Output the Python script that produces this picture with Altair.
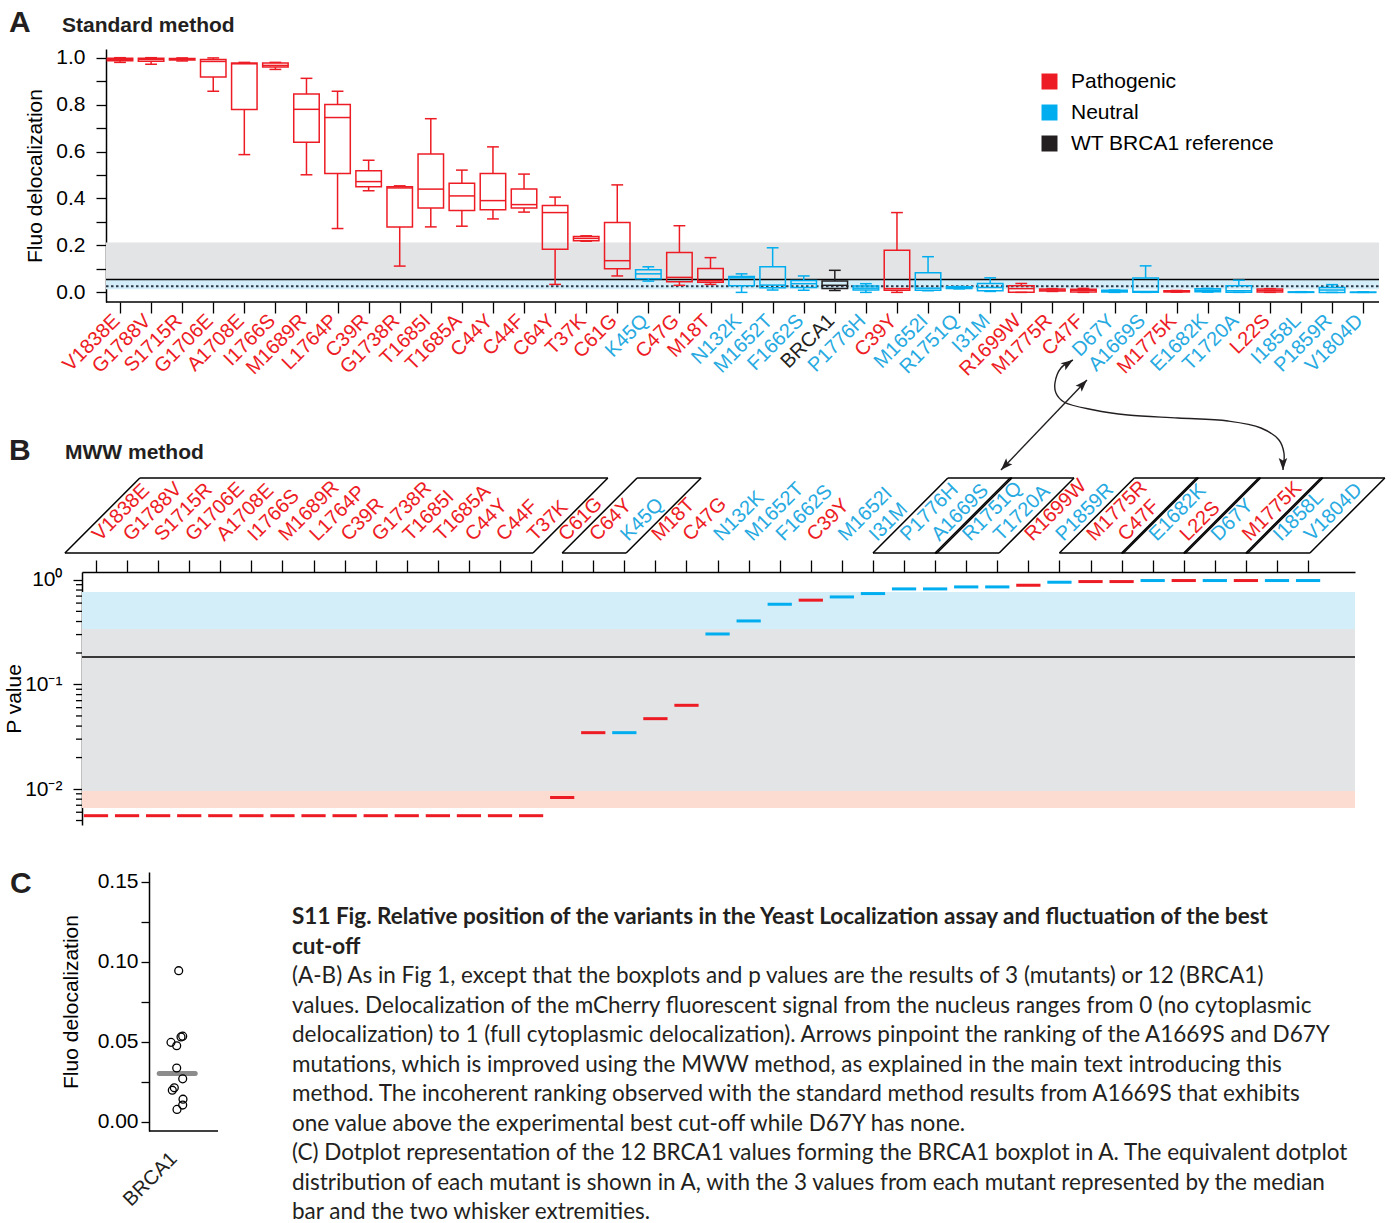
import altair as alt
import pandas as pd
import numpy as np

RED = "#ED1C24"
BLUE = "#00AEEF"
BLUE_T = "#27AAE1"
BLACK = "#231F20"
GRAY_BAND = "#E3E4E6"
BLUE_BAND = "#D4EEF9"
PEACH_BAND = "#FCDCD1"
FONT = "Liberation Sans"
CAP_FONT = "Lato"

# ---------------- Panel A data (standard method) ----------------
a_variants = ["V1838E", "G1788V", "S1715R", "G1706E", "A1708E", "I1766S", "M1689R", "L1764P",
              "C39R", "G1738R", "T1685I", "T1685A", "C44Y", "C44F", "C64Y", "T37K", "C61G",
              "K45Q", "C47G", "M18T", "N132K", "M1652T", "F1662S", "BRCA1", "P1776H", "C39Y",
              "M1652I", "R1751Q", "I31M", "R1699W", "M1775R", "C47F", "D67Y", "A1669S",
              "M1775K", "E1682K", "T1720A", "L22S", "I1858L", "P1859R", "V1804D"]
P, N, W = "Pathogenic", "Neutral", "WT BRCA1 reference"
a_class = [P, P, P, P, P, P, P, P, P, P, P, P, P, P, P, P, P,
           N, P, P, N, N, N, W, N, P, N, N, N, P, P, P, N, N, P, N, N, P, N, N, N]
a_low = [0.980, 0.972, 0.986, 0.857, 0.587, 0.950, 0.501, 0.272, 0.433, 0.112, 0.279, 0.282,
         0.313, 0.342, 0.034, 0.218, 0.070, 0.048, 0.030, 0.034, 0.000, 0.010, 0.009, 0.008,
         0.000, 0.000, 0.007, 0.015, 0.004, 0.000, 0.004, 0.000, 0.000, 0.000, 0.001, 0.001,
         0.000, 0.000, 0.000, 0.000, 0.000]
a_q1 = [0.987, 0.985, 0.990, 0.918, 0.779, 0.960, 0.640, 0.506, 0.450, 0.279, 0.359, 0.349,
        0.352, 0.359, 0.184, 0.220, 0.101, 0.058, 0.045, 0.043, 0.028, 0.020, 0.021, 0.017,
        0.010, 0.009, 0.009, 0.017, 0.007, 0.001, 0.006, 0.002, 0.002, 0.001, 0.002, 0.003,
        0.001, 0.002, 0.000, 0.000, 0.000]
a_med = [0.993, 0.993, 0.994, 0.984, 0.974, 0.967, 0.780, 0.745, 0.472, 0.445, 0.440, 0.411,
         0.391, 0.374, 0.340, 0.230, 0.135, 0.079, 0.064, 0.050, 0.062, 0.031, 0.037, 0.030,
         0.018, 0.016, 0.018, 0.021, 0.021, 0.016, 0.010, 0.009, 0.005, 0.004, 0.004, 0.009,
         0.007, 0.008, 0.001, 0.010, 0.000]
a_q3 = [0.998, 0.998, 0.997, 0.992, 0.977, 0.977, 0.845, 0.800, 0.518, 0.450, 0.590, 0.465,
        0.506, 0.440, 0.370, 0.238, 0.298, 0.096, 0.170, 0.102, 0.068, 0.109, 0.051, 0.049,
        0.027, 0.179, 0.084, 0.024, 0.038, 0.028, 0.014, 0.013, 0.009, 0.061, 0.007, 0.015,
        0.028, 0.014, 0.002, 0.021, 0.001]
a_high = [1.000, 1.000, 0.999, 0.999, 0.980, 0.980, 0.912, 0.857, 0.563, 0.454, 0.740, 0.521,
          0.620, 0.504, 0.406, 0.241, 0.458, 0.109, 0.284, 0.148, 0.079, 0.190, 0.070, 0.094,
          0.037, 0.340, 0.152, 0.025, 0.062, 0.038, 0.016, 0.017, 0.010, 0.113, 0.008, 0.017,
          0.052, 0.016, 0.003, 0.033, 0.002]
a_band_lo = [0.055, 0.013]
a_band_hi = [0.213, 0.055]
a_band_col = [GRAY_BAND, BLUE_BAND]
a_cutoff = 0.055
a_wt_median = 0.026

# ---------------- Panel B data (MWW method) ----------------
b_variants = ["V1838E", "G1788V", "S1715R", "G1706E", "A1708E", "I1766S", "M1689R", "L1764P",
              "C39R", "G1738R", "T1685I", "T1685A", "C44Y", "C44F", "T37K", "C61G", "C64Y",
              "K45Q", "M18T", "C47G", "N132K", "M1652T", "F1662S", "C39Y", "M1652I", "I31M",
              "P1776H", "A1669S", "R1751Q", "T1720A", "R1699W", "P1859R", "M1775R", "C47F",
              "E1682K", "L22S", "D67Y", "M1775K", "I1858L", "V1804D"]
b_class = [P, P, P, P, P, P, P, P, P, P, P, P, P, P, P, P, P,
           N, P, P, N, N, N, P, N, N, N, N, N, N, P, N, P, P, N, P, N, P, N, N]
b_pvalue = [0.00556, 0.00556, 0.00556, 0.00556, 0.00556, 0.00556, 0.00556, 0.00556,
            0.00556, 0.00556, 0.00556, 0.00556, 0.00556, 0.00556, 0.00556, 0.0083, 0.0346,
            0.0346, 0.0471, 0.0632, 0.304, 0.405, 0.585, 0.640, 0.687, 0.740,
            0.820, 0.820, 0.857, 0.857, 0.889, 0.950, 0.964, 0.964,
            0.986, 0.986, 0.986, 0.986, 0.986, 0.986]
b_groups = [(0, 14), (16, 17), (26, 27), (28, 29), (32, 33), (34, 35), (36, 37), (38, 39)]
b_band_lo = [0.34, 0.0096, 0.0066]
b_band_hi = [0.767, 0.34, 0.0096]
b_band_col = [BLUE_BAND, GRAY_BAND, PEACH_BAND]
b_cutoff = 0.183

# ---------------- Panel C data ----------------
c_values = [0.0944, 0.0535, 0.0530, 0.0496, 0.0475, 0.0336, 0.0268, 0.0212, 0.0197, 0.0141,
            0.0104, 0.0077]
c_jitter = [1.5, 5.5, 3.8, -6.2, -0.5, -0.5, 5.5, -2.9, -4.9, 5.8, 5.5, -0.2]

caption_bold = [
    "S11 Fig. Relative position of the variants in the Yeast Localization assay and fluctuation of the best",
    "cut-off",
]
caption_body = [
    "(A-B) As in Fig 1, except that the boxplots and p values are the results of 3 (mutants) or 12 (BRCA1)",
    "values. Delocalization of the mCherry fluorescent signal from the nucleus ranges from 0 (no cytoplasmic",
    "delocalization) to 1 (full cytoplasmic delocalization). Arrows pinpoint the ranking of the A1669S and D67Y",
    "mutations, which is improved using the MWW method, as explained in the main text introducing this",
    "method. The incoherent ranking observed with the standard method results from A1669S that exhibits",
    "one value above the experimental best cut-off while D67Y has none.",
    "(C) Dotplot representation of the 12 BRCA1 values forming the BRCA1 boxplot in A. The equivalent dotplot",
    "distribution of each mutant is shown in A, with the 3 values from each mutant represented by the median",
    "bar and the two whisker extremities.",
]

# arrows (annotation) in B index units / pixels below the gap top
arrow_pts = [
    ("s", 0, 29.118, 121), ("s", 1, 31.885, 31),
    ("c", 0, 31.435, 11), ("c", 1, 31.049, 19), ("c", 2, 30.856, 34), ("c", 3, 30.888, 44),
    ("c", 4, 31.145, 53), ("c", 5, 32.111, 61), ("c", 6, 33.205, 66), ("c", 7, 34.813, 69),
    ("c", 8, 36.422, 72), ("c", 9, 37.484, 79), ("c", 10, 38.063, 91), ("c", 11, 38.224, 104),
    ("c", 12, 38.192, 121),
]
arrow_heads = [(29.118, 121, 223.7), (31.885, 31, 43.7), (31.435, 11, 56.0), (38.192, 121, 180.0)]

# ---------------- geometry ----------------
A_W, A_H = 1297, 253
A_AX = 24
A_XD = [-1.223, 40.51]
A_YD = [-0.041, 1.037]
B_W, B_H = 1273, 253
B_XD = [-0.45, 40.51]
B_YD = [0.00453, 1.19]
SP_H = 176
C_W, C_H = 136, 259
C_AX = 67
C_XD = [-95.2, 40.8]
C_YD = [-0.0058, 0.1561]
GAP = 47

colmap = {P: RED, N: BLUE, W: BLACK}
tcolmap = {P: RED, N: BLUE_T, W: BLACK}

one = pd.DataFrame({"k": [0]})


def label_chart(txt, x, y, size, bold=True, font=FONT):
    return alt.Chart(pd.DataFrame({"t": [txt]})).mark_text(
        font=font, fontSize=size, fontWeight="bold" if bold else "normal", align="left",
        baseline="alphabetic", color=BLACK).encode(x=alt.value(x), y=alt.value(y), text="t:N")


# ================= Panel A =================
a_df = pd.DataFrame({"variant": a_variants, "cls": a_class, "lo": a_low, "q1": a_q1,
                     "med": a_med, "q3": a_q3, "hi": a_high})
a_df["idx"] = np.arange(len(a_df))
a_df["col"] = a_df["cls"].map(colmap)
a_df["tcol"] = a_df["cls"].map(tcolmap)

sAx = alt.Scale(domain=A_XD, nice=False, zero=False)
sAy = alt.Scale(domain=A_YD, nice=False, zero=False)
axAx = alt.Axis(orient="bottom", values=list(range(len(a_variants))), labels=False, domain=False,
                tickSize=11, tickWidth=1.3, grid=False)
axAy = alt.Axis(values=[round(0.1 * i, 1) for i in range(11)],
                labelExpr="abs(datum.value*5 - round(datum.value*5)) < 1e-6 ? format(datum.value, '.1f') : ''",
                offset=-A_AX, tickSize=10, labelPadding=11, titlePadding=10, grid=False)


def xA(f):
    return alt.X(f, type="quantitative", scale=sAx, axis=axAx, title=None)


def yA(f):
    return alt.Y(f, type="quantitative", scale=sAy, axis=axAy, title="Fluo delocalization")


a_bands = alt.Chart(pd.DataFrame({"lo": a_band_lo, "hi": a_band_hi, "c": a_band_col})).mark_rect().encode(
    x=alt.value(A_AX), x2=alt.value(A_W), y=yA("lo"), y2="hi", color=alt.Color("c:N", scale=None))
a_cut = alt.Chart(pd.DataFrame({"v": [a_cutoff]})).mark_rule(color="black", strokeWidth=1.5).encode(
    x=alt.value(A_AX), x2=alt.value(A_W), y=yA("v"))
a_dot = alt.Chart(pd.DataFrame({"v": [a_wt_median]})).mark_rule(
    color="#2E3A4A", strokeWidth=2, strokeDash=[2.5, 2.5]).encode(
    x=alt.value(A_AX), x2=alt.value(A_W), y=yA("v"))
a_base = alt.Chart(a_df).transform_calculate(
    xl="datum.idx - 0.41", xr="datum.idx + 0.41", cl="datum.idx - 0.19", cr="datum.idx + 0.19",
    xt="datum.idx + 0.03")
a_wlo = a_base.mark_rule(strokeWidth=1.5).encode(x=xA("idx"), y=yA("lo"), y2="q1",
                                                color=alt.Color("col:N", scale=None))
a_whi = a_base.mark_rule(strokeWidth=1.5).encode(x=xA("idx"), y=yA("q3"), y2="hi",
                                                color=alt.Color("col:N", scale=None))
a_box = a_base.mark_rect(fillOpacity=0, strokeWidth=1.5).encode(
    x=xA("xl"), x2="xr", y=yA("q1"), y2="q3", stroke=alt.Stroke("col:N", scale=None))
a_medl = a_base.mark_rule(strokeWidth=1.5).encode(x=xA("xl"), x2="xr", y=yA("med"),
                                                 color=alt.Color("col:N", scale=None))
a_caplo = a_base.mark_rule(strokeWidth=1.5).encode(x=xA("cl"), x2="cr", y=yA("lo"),
                                                  color=alt.Color("col:N", scale=None))
a_caphi = a_base.mark_rule(strokeWidth=1.5).encode(x=xA("cl"), x2="cr", y=yA("hi"),
                                                  color=alt.Color("col:N", scale=None))
a_labels = a_base.mark_text(angle=315, align="right", baseline="alphabetic", font=FONT,
                            fontSize=20).encode(
    x=xA("xt"), y=alt.value(A_H + 20), text="variant:N", color=alt.Color("tcol:N", scale=None))
a_legend = a_base.mark_point(shape="square", filled=True, opacity=0, size=4).encode(
    x=xA("idx"), y=yA("med"),
    fill=alt.Fill("cls:N", scale=alt.Scale(domain=[P, N, W], range=[RED, BLUE, BLACK]),
                  legend=alt.Legend(orient="none", legendX=957, legendY=22, title=None,
                                    symbolType="square", symbolSize=256, symbolOpacity=1,
                                    symbolStrokeWidth=0, labelFont=FONT, labelFontSize=21,
                                    labelColor="black", rowPadding=9, labelOffset=11,
                                    labelLimit=0)))
a_axisline = alt.Chart(one).mark_rule(color="black", strokeWidth=1.5).encode(
    x=alt.value(A_AX), x2=alt.value(A_W), y=alt.value(A_H))
a_letter = label_chart("A", -73, -17, 30)
a_title = label_chart("Standard method", -20, -17, 21)

panelA = alt.layer(a_bands, a_cut, a_dot, a_wlo, a_whi, a_box, a_medl, a_caplo, a_caphi,
                   a_labels, a_legend, a_axisline, a_letter, a_title).properties(width=A_W, height=A_H)

# ================= spacer with arrows =================
sSx = alt.Scale(domain=B_XD, nice=False, zero=False)
sSy = alt.Scale(domain=[SP_H, 0], nice=False, zero=False)
px_per_idx = B_W / (B_XD[1] - B_XD[0])
arr_df = pd.DataFrame(arrow_pts, columns=["a", "o", "ix", "py"])
head_r = np.sqrt(190) / 2
heads = pd.DataFrame(arrow_heads, columns=["ix", "py", "ang"])
heads["hx"] = heads["ix"] - head_r * np.sin(np.radians(heads["ang"])) / px_per_idx
heads["hy"] = heads["py"] + head_r * np.cos(np.radians(heads["ang"]))

arr_lines = alt.Chart(arr_df).mark_line(color=BLACK, strokeWidth=1.4, interpolate="catmull-rom").encode(
    x=alt.X("ix:Q", scale=sSx, axis=None), y=alt.Y("py:Q", scale=sSy, axis=None),
    detail="a:N", order="o:Q")
arr_heads = alt.Chart(heads).mark_point(
    shape="M0,-1L0.62,0.75L0,0.38L-0.62,0.75Z", filled=True, size=190, color=BLACK, opacity=1,
    strokeWidth=0).encode(
    x=alt.X("hx:Q", scale=sSx, axis=None), y=alt.Y("hy:Q", scale=sSy, axis=None),
    angle=alt.Angle("ang:Q", scale=None))
spacer = alt.layer(arr_lines, arr_heads).properties(width=B_W, height=SP_H)

# ================= Panel B =================
b_df = pd.DataFrame({"variant": b_variants, "cls": b_class, "p": b_pvalue})
b_df["idx"] = np.arange(len(b_df))
b_df["col"] = b_df["cls"].map(colmap)
b_df["tcol"] = b_df["cls"].map(tcolmap)

sBx = alt.Scale(domain=B_XD, nice=False, zero=False)
sBy = alt.Scale(type="log", domain=B_YD, nice=False)
b_major = [0.01, 0.1, 1.0]
b_minor = [m * 10.0 ** e for e in (-3, -2, -1) for m in range(2, 10) if m * 10.0 ** e >= B_YD[0]]
b_label_expr = ("datum.value > 0.5 ? '10\u2070' : datum.value > 0.05 ? '10\u207b\u00b9' : '10\u207b\u00b2'")
axBx = alt.Axis(orient="top", values=list(range(len(b_variants))), labels=False, tickSize=12,
                tickWidth=1.3, grid=False)
axBy = alt.Axis(values=b_major, labelExpr=b_label_expr, tickSize=9,
                labelPadding=11, titlePadding=0, grid=False)


def xB(f):
    return alt.X(f, type="quantitative", scale=sBx, axis=axBx, title=None)


def yB(f):
    return alt.Y(f, type="quantitative", scale=sBy, axis=axBy, title="P value")


b_bands = alt.Chart(pd.DataFrame({"lo": b_band_lo, "hi": b_band_hi, "c": b_band_col})).mark_rect().encode(
    x=alt.value(0), x2=alt.value(B_W), y=yB("lo"), y2="hi", color=alt.Color("c:N", scale=None))
b_cut = alt.Chart(pd.DataFrame({"v": [b_cutoff]})).mark_rule(color="black", strokeWidth=1.5).encode(
    x=alt.value(0), x2=alt.value(B_W), y=yB("v"))
b_minor_ticks = alt.Chart(pd.DataFrame({"v": b_minor})).mark_rule(color="black", strokeWidth=1.3).encode(
    x=alt.value(-6), x2=alt.value(0), y=yB("v"))
b_base = alt.Chart(b_df).transform_calculate(
    xl="datum.idx - 0.39", xr="datum.idx + 0.39", xt="datum.idx + 0.13")
b_dash = b_base.mark_rule(strokeWidth=3).encode(x=xB("xl"), x2="xr", y=yB("p"),
                                               color=alt.Color("col:N", scale=None))
b_labels = b_base.mark_text(angle=315, align="left", baseline="alphabetic", font=FONT,
                            fontSize=20).encode(
    x=xB("xt"), y=alt.value(-30), text="variant:N", color=alt.Color("tcol:N", scale=None))

SLANT = 2.41
g_df = pd.DataFrame(b_groups, columns=["i0", "i1"])
g_df["x0"] = g_df["i0"] - 1.0
g_df["x1"] = g_df["i1"] + 0.06
g_df["t0"] = g_df["x0"] + SLANT
g_df["t1"] = g_df["x1"] + SLANT
YB_BOT, YB_TOP = -19, -94
pg_bottom = alt.Chart(g_df).mark_rule(color="black", strokeWidth=1.5).encode(
    x=xB("x0"), x2="x1", y=alt.value(YB_BOT))
pg_top = alt.Chart(g_df).mark_rule(color="black", strokeWidth=1.5).encode(
    x=xB("t0"), x2="t1", y=alt.value(YB_TOP))
pg_left = alt.Chart(g_df).mark_rule(color="black", strokeWidth=1.5).encode(
    x=xB("x0"), x2="t0", y=alt.value(YB_BOT), y2=alt.value(YB_TOP))
pg_right = alt.Chart(g_df).mark_rule(color="black", strokeWidth=1.5).encode(
    x=xB("x1"), x2="t1", y=alt.value(YB_BOT), y2=alt.value(YB_TOP))
b_letter = label_chart("B", -73, -112, 30)
b_title = label_chart("MWW method", -17, -113, 21)

panelB = alt.layer(b_bands, b_cut, b_minor_ticks, b_dash, b_labels, pg_bottom, pg_top, pg_left,
                   pg_right, b_letter, b_title).properties(width=B_W, height=B_H)

# ================= Panel C =================
c_df = pd.DataFrame({"v": c_values, "j": c_jitter})
sCx = alt.Scale(domain=C_XD, nice=False, zero=False)
sCy = alt.Scale(domain=C_YD, nice=False, zero=False)
axCy = alt.Axis(values=[0.025 * i for i in range(7)],
                labelExpr="abs(datum.value*20 - round(datum.value*20)) < 1e-6 ? format(datum.value, '.2f') : ''",
                offset=-C_AX, tickSize=8, labelPadding=3, titlePadding=16, grid=False)


def xC(f):
    return alt.X(f, type="quantitative", scale=sCx, axis=None, title=None)


def yC(f):
    return alt.Y(f, type="quantitative", scale=sCy, axis=axCy, title="Fluo delocalization")


c_med_df = pd.DataFrame({"m": [float(np.median(c_values))], "x0": [-18.0], "x1": [18.0]})
c_med = alt.Chart(c_med_df).mark_rule(color="#8C8C8C", strokeWidth=5, strokeCap="round").encode(
    x=xC("x0"), x2="x1", y=yC("m"))
c_pts = alt.Chart(c_df).mark_point(shape="circle", filled=False, size=62, strokeWidth=1.3,
                                   color="black", opacity=1).encode(x=xC("j"), y=yC("v"))
c_axisline = alt.Chart(one).mark_rule(color="black", strokeWidth=1.5).encode(
    x=alt.value(C_AX), x2=alt.value(C_W), y=alt.value(C_H))
c_lab = alt.Chart(pd.DataFrame({"t": ["BRCA1"], "x": [1.0]})).mark_text(
    angle=315, align="right", baseline="alphabetic", font=FONT, fontSize=20, color=BLACK).encode(
    x=xC("x"), y=alt.value(C_H + 29), text="t:N")
c_letter = label_chart("C", -72, 21, 30)
cap_b = alt.Chart(one).mark_text(
    text=caption_bold, font=CAP_FONT, fontSize=22.5, fontWeight="bold", align="left",
    baseline="alphabetic", lineHeight=29.5, color=BLACK).encode(x=alt.value(210), y=alt.value(52))
cap_n = alt.Chart(one).mark_text(
    text=caption_body, font=CAP_FONT, fontSize=22.5, align="left",
    baseline="alphabetic", lineHeight=29.5, color=BLACK).encode(x=alt.value(210), y=alt.value(111))

panelC = alt.layer(c_med, c_pts, c_axisline, c_lab, c_letter, cap_b, cap_n).properties(
    width=C_W, height=C_H)

chart = alt.vconcat(panelA, spacer, panelB, panelC, spacing=GAP, bounds="flush").properties(
    padding={"left": 3, "top": 8, "right": 4, "bottom": 0}
).configure_view(stroke=None).configure_axis(
    labelFont=FONT, labelFontSize=21, titleFont=FONT, titleFontSize=21, titleFontWeight="normal",
    labelColor="black", titleColor="black", domainColor="black", tickColor="black",
    domainWidth=1.5, tickWidth=1.3
)

chart.save("out.html", embed_options={"renderer": "svg", "actions": False})
